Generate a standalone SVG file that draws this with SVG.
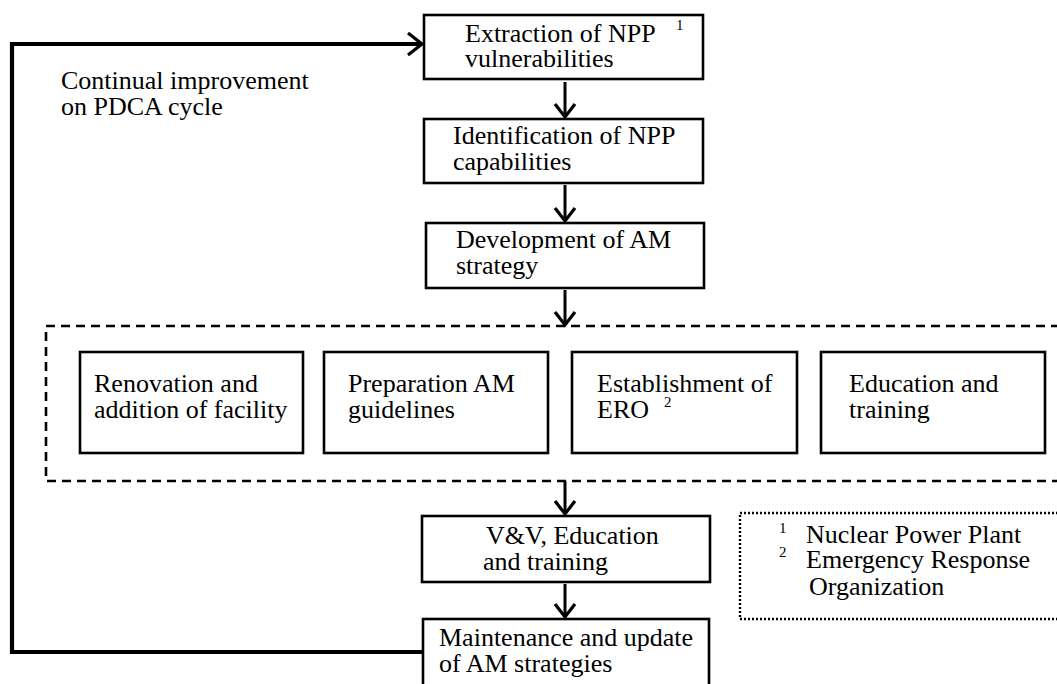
<svg xmlns="http://www.w3.org/2000/svg" width="1057" height="684" viewBox="0 0 1057 684">
<style>
.box{fill:#fff;stroke:#000;stroke-width:2.6}
.t{font-family:"Liberation Serif","Times New Roman",serif;font-size:26px;fill:#000}
.sup{font-family:"Liberation Serif","Times New Roman",serif;font-size:15px;fill:#000}
.ln{fill:none;stroke:#000;stroke-width:3;stroke-linecap:butt}
.head{fill:none;stroke:#000;stroke-width:3.2;stroke-linejoin:miter}
.loop{fill:none;stroke:#000;stroke-width:4.2}
</style>
<rect width="1057" height="684" fill="#fff"/>
<g id="group-dashed">
<rect x="46" y="326" width="1030" height="155" fill="none" stroke="#000" stroke-width="2.6" stroke-dasharray="9 6"/>
</g>
<g id="connectors">
<path class="loop" d="M423 652 H12 V44 H420"/>
<path class="head" d="M408 33 L422 44 L408 55"/>
<line class="ln" x1="565" y1="82" x2="565" y2="116"/>
<path class="head" d="M555 104 L565 117 L575 104"/>
<line class="ln" x1="565" y1="185" x2="565" y2="220"/>
<path class="head" d="M555 208 L565 221 L575 208"/>
<line class="ln" x1="565" y1="290" x2="565" y2="324"/>
<path class="head" d="M555 312 L565 325 L575 312"/>
<line class="ln" x1="565" y1="481" x2="565" y2="514"/>
<path class="head" d="M555 501 L565 514 L575 501"/>
<line class="ln" x1="565" y1="584" x2="565" y2="616"/>
<path class="head" d="M555 604 L565 617 L575 604"/>
</g>
<text class="t" x="61" y="89">Continual improvement</text>
<text class="t" x="61" y="115">on PDCA cycle</text>
<g id="n1">
<rect class="box" x="424" y="15" width="279" height="64"/>
<text class="t" x="465" y="42">Extraction of NPP</text>
<text class="sup" x="676" y="30">1</text>
<text class="t" x="465" y="67">vulnerabilities</text>
</g>
<g id="n2">
<rect class="box" x="424" y="119" width="279" height="64"/>
<text class="t" x="453" y="144">Identification of NPP</text>
<text class="t" x="453" y="170">capabilities</text>
</g>
<g id="n3">
<rect class="box" x="426" y="223" width="278" height="65"/>
<text class="t" x="456" y="248">Development of AM</text>
<text class="t" x="456" y="274">strategy</text>
</g>
<g id="n4">
<rect class="box" x="80" y="352" width="223" height="101"/>
<text class="t" x="94" y="392">Renovation and</text>
<text class="t" x="94" y="418">addition of facility</text>
</g>
<g id="n5">
<rect class="box" x="324" y="352" width="224" height="101"/>
<text class="t" x="348" y="392">Preparation AM</text>
<text class="t" x="348" y="418">guidelines</text>
</g>
<g id="n6">
<rect class="box" x="572" y="352" width="225" height="101"/>
<text class="t" x="597" y="392">Establishment of</text>
<text class="t" x="597" y="418">ERO</text>
<text class="sup" x="664" y="407">2</text>
</g>
<g id="n7">
<rect class="box" x="821" y="352" width="224" height="101"/>
<text class="t" x="849" y="392">Education and</text>
<text class="t" x="849" y="418">training</text>
</g>
<g id="n8">
<rect class="box" x="422" y="516" width="288" height="66"/>
<text class="t" x="486" y="544">V&amp;V, Education</text>
<text class="t" x="483" y="570">and training</text>
</g>
<g id="n9">
<rect class="box" x="423" y="619" width="286" height="80"/>
<text class="t" x="439" y="646">Maintenance and update</text>
<text class="t" x="439" y="672">of AM strategies</text>
</g>
<g id="legend">
<rect x="740" y="513" width="340" height="106" fill="none" stroke="#000" stroke-width="2.4" stroke-dasharray="2 2"/>
<text class="sup" x="779" y="533">1</text>
<text class="t" x="806" y="543">Nuclear Power Plant</text>
<text class="sup" x="779" y="557">2</text>
<text class="t" x="806" y="568">Emergency Response</text>
<text class="t" x="809" y="595">Organization</text>
</g>
</svg>
